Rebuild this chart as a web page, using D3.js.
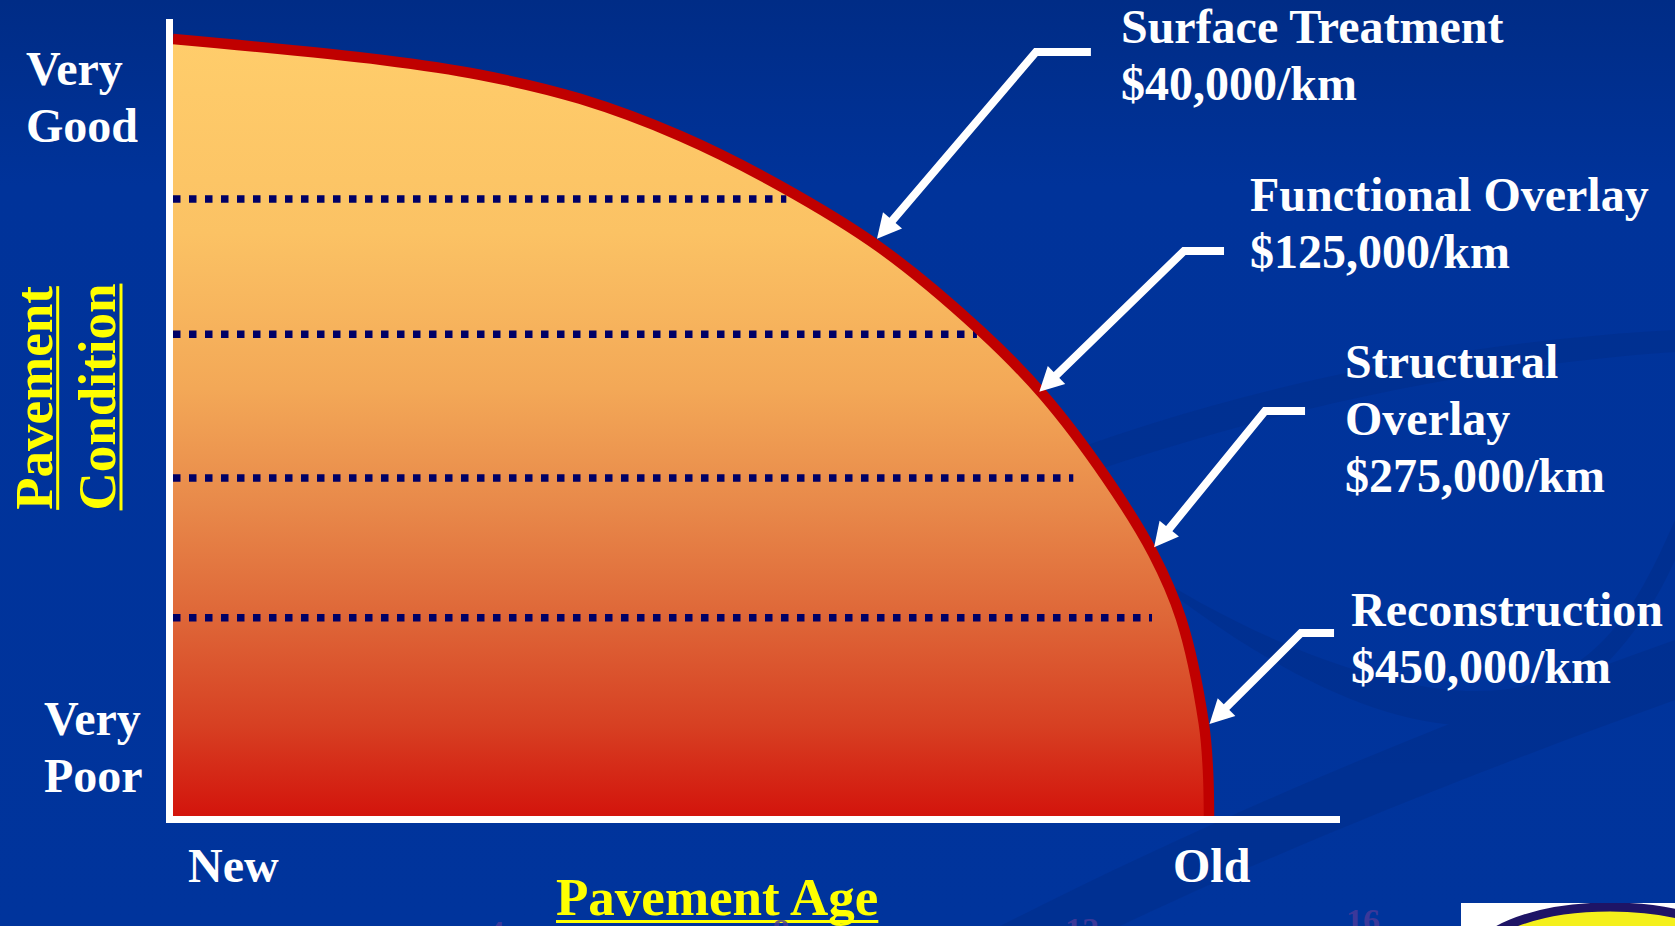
<!DOCTYPE html>
<html>
<head>
<meta charset="utf-8">
<script src="https://cdn.jsdelivr.net/npm/d3@7"></script>
<style>
  html, body { margin: 0; padding: 0; background: #003399; overflow: hidden; }
  svg { display: block; }
</style>
</head>
<body>
<svg id="chart"></svg>
<script>
// deterioration curve (age 0 = new, 100 = old; condition 100 = very good)
var curveAge  = [0, 20.2, 29.6, 39.3, 49.0, 58.6, 68.2, 77.9, 84.0, 90.1, 94.6, 97.3, 99.5, 99.9, 100];
var curveCond = [100, 97.3, 95.4, 92.3, 87.5, 81.1, 73.2, 62.5, 54.2, 43.5, 33.8, 25.4, 11.9, 5.9, 0];

// dotted treatment thresholds
var bandCond   = [79.4, 62.0, 43.5, 25.5];
var bandEndAge = [59.2, 77.6, 86.9, 94.5];

var treatmentNames = [['Surface Treatment'], ['Functional Overlay'], ['Structural', 'Overlay'], ['Reconstruction']];
var treatmentCosts = ['$40,000/km', '$125,000/km', '$275,000/km', '$450,000/km'];

var condLabelsTop = ['Very', 'Good'];
var condLabelsBottom = ['Very', 'Poor'];
var ageLabels = ['New', 'Old'];
var yTitle = ['Pavement', 'Condition'];
var xTitle = 'Pavement Age';
var pageNumbers = ['4', '8', '12', '16'];

var W = 1675, H = 926;
var serif = '"Liberation Serif", "Times New Roman", Times, serif';

var svg = d3.select('#chart').attr('width', W).attr('height', H);
var defs = svg.append('defs');

var bg = defs.append('linearGradient').attr('id', 'bg')
  .attr('x1', 0).attr('y1', 0).attr('x2', 0).attr('y2', 1);
bg.append('stop').attr('offset', '0%').attr('stop-color', '#002c86');
bg.append('stop').attr('offset', '20%').attr('stop-color', '#00339a');
bg.append('stop').attr('offset', '100%').attr('stop-color', '#00349c');

var x = d3.scaleLinear().domain([0, 100]).range([173, 1209]);
var y = d3.scaleLinear().domain([0, 100]).range([816, 39]);

var fillGrad = defs.append('linearGradient').attr('id', 'fillGrad')
  .attr('gradientUnits', 'userSpaceOnUse')
  .attr('x1', 0).attr('y1', y(100)).attr('x2', 0).attr('y2', y(0));
[['0%', '#ffcd6b'], ['25%', '#fbc264'], ['45%', '#f3a857'], ['60%', '#e8894a'],
 ['75%', '#de6537'], ['88%', '#d74123'], ['100%', '#d3140c']].forEach(function (s) {
  fillGrad.append('stop').attr('offset', s[0]).attr('stop-color', s[1]);
});

svg.append('rect').attr('width', W).attr('height', H).attr('fill', 'url(#bg)');

// faint background swooshes
var swoosh = svg.append('g').attr('fill', '#002a80').attr('opacity', 0.35);
swoosh.append('path').attr('d', 'M1000,926 C1250,800 1450,720 1675,640 L1675,700 C1480,770 1280,850 1120,926 Z');
swoosh.append('path').attr('d', 'M1020,470 C1250,380 1480,340 1675,330 L1675,352 C1480,365 1260,410 1040,490 Z');
swoosh.append('path').attr('d', 'M1130,560 C1250,640 1400,700 1500,690 C1600,680 1640,600 1675,520 L1675,560 C1630,660 1560,720 1480,725 C1380,730 1250,660 1130,560 Z');

var pointsData = curveAge.map(function (a, i) { return [a, curveCond[i]]; });

var line = d3.line()
  .x(function (d) { return x(d[0]); })
  .y(function (d) { return y(d[1]); })
  .curve(d3.curveCatmullRom.alpha(0.5));

// area closed along the axes, same curve on top
var curvePath = line(pointsData);
svg.append('path')
  .attr('d', curvePath + 'L' + x(0) + ',' + y(0) + 'Z')
  .attr('fill', 'url(#fillGrad)');

// dotted threshold lines
bandCond.forEach(function (c, i) {
  svg.append('line')
    .attr('x1', x(0)).attr('x2', x(bandEndAge[i]))
    .attr('y1', y(c)).attr('y2', y(c))
    .attr('stroke', '#000066')
    .attr('stroke-width', 7.5)
    .attr('stroke-dasharray', '7.5,8.5');
});

svg.append('path').attr('d', curvePath)
  .attr('fill', 'none')
  .attr('stroke', '#c00000')
  .attr('stroke-width', 10.5);

// axes
svg.append('rect').attr('x', x(0) - 7).attr('y', 19).attr('width', 7).attr('height', y(0) + 7 - 19).attr('fill', '#fff');
svg.append('rect').attr('x', x(0) - 7).attr('y', y(0)).attr('width', 1340 - x(0) + 7).attr('height', 7).attr('fill', '#fff');

function label(txt, px, py, size, color, anchor) {
  return svg.append('text')
    .attr('x', px).attr('y', py)
    .attr('fill', color || '#fff')
    .attr('font-family', serif)
    .attr('font-weight', 'bold')
    .attr('font-size', size + 'px')
    .attr('text-anchor', anchor || 'start')
    .text(txt);
}

condLabelsTop.forEach(function (t, i) { label(t, 26, 85 + i * 57, 48); });
condLabelsBottom.forEach(function (t, i) { label(t, 44, 735 + i * 57, 48); });
label(ageLabels[0], 188, 882, 48);
label(ageLabels[1], 1173, 882, 48);

// x title, underlined
var xt = label(xTitle, 556, 915, 53, '#ffff00');
var xtLen = xt.node().getComputedTextLength();
svg.append('rect').attr('x', 556).attr('y', 920).attr('width', xtLen).attr('height', 3).attr('fill', '#ffff00');

// y title, rotated and underlined
[[51.7, 398], [115, 397]].forEach(function (p, i) {
  var g = svg.append('g').attr('transform', 'translate(' + p[0] + ',' + p[1] + ') rotate(-90)');
  var t = g.append('text')
    .attr('x', 0).attr('y', 0)
    .attr('text-anchor', 'middle')
    .attr('fill', '#ffff00')
    .attr('font-family', serif)
    .attr('font-weight', 'bold')
    .attr('font-size', '53px')
    .text(yTitle[i]);
  var len = t.node().getComputedTextLength();
  g.append('rect').attr('x', -len / 2).attr('y', 4.5).attr('width', len).attr('height', 3).attr('fill', '#ffff00');
});

// arrow + label layout, in chart units
var callouts = [
  { tip: [67.95, 74.3], elbow: [83.3, 98.33], tail: 88.6, text: [91.5, 99.45] },
  { tip: [83.62, 54.6], elbow: [97.59, 72.72], tail: 101.45, text: [103.96, 77.9] },
  { tip: [94.7, 34.6], elbow: [105.41, 52.12], tail: 109.27, text: [113.13, 56.37] },
  { tip: [100.05, 11.84], elbow: [108.88, 23.55], tail: 112.07, text: [113.71, 24.45] }
];

callouts.forEach(function (c, i) {
  var tx = x(c.tip[0]), ty = y(c.tip[1]);
  var ex = x(c.elbow[0]), ey = y(c.elbow[1]);
  var dx = tx - ex, dy = ty - ey, len = Math.sqrt(dx * dx + dy * dy);
  var ux = dx / len, uy = dy / len;
  var headLen = 24, headHalf = 12.5;
  var bx = tx - ux * headLen, by = ty - uy * headLen;

  svg.append('path')
    .attr('d', 'M' + x(c.tail) + ',' + ey + 'L' + ex + ',' + ey + 'L' + (bx + ux * 2) + ',' + (by + uy * 2))
    .attr('fill', 'none')
    .attr('stroke', '#fff')
    .attr('stroke-width', 8)
    .attr('stroke-linejoin', 'miter');

  svg.append('path')
    .attr('d', 'M' + tx + ',' + ty +
      'L' + (bx - uy * headHalf) + ',' + (by + ux * headHalf) +
      'L' + (bx + uy * headHalf) + ',' + (by - ux * headHalf) + 'Z')
    .attr('fill', '#fff');

  var lines = treatmentNames[i].concat([treatmentCosts[i]]);
  lines.forEach(function (t, j) {
    label(t, x(c.text[0]), y(c.text[1]) + j * 57, 48);
  });
});

// faint page numbers of the template, cut by the bottom edge
var pn = [[496, 944], [781, 942], [1082, 941], [1363, 932]];
pageNumbers.forEach(function (t, i) {
  label(t, pn[i][0], pn[i][1], 34, '#4a3a9a', 'middle').attr('opacity', 0.8);
});

// logo corner, cut off
var logo = svg.append('g');
defs.append('clipPath').attr('id', 'logoClip')
  .append('rect').attr('x', 1461).attr('y', 903).attr('width', 214).attr('height', 23);
logo.append('rect').attr('x', 1461).attr('y', 903).attr('width', 214).attr('height', 23).attr('fill', '#fff');
logo.append('ellipse').attr('clip-path', 'url(#logoClip)')
  .attr('cx', 1610).attr('cy', 965).attr('rx', 140).attr('ry', 58)
  .attr('fill', '#f4f01c').attr('stroke', '#1e1466').attr('stroke-width', 9);
</script>
</body>
</html>
